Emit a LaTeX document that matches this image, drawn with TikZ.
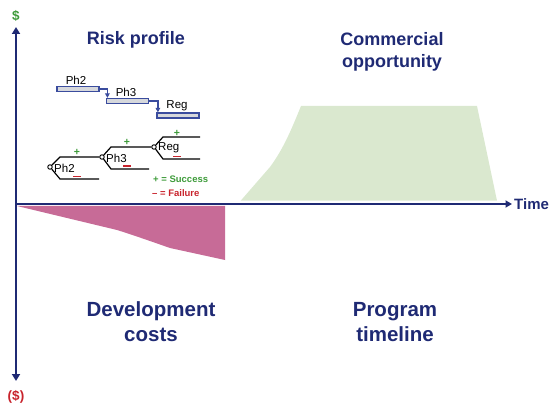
\documentclass[tikz,border=0pt]{standalone}
\usepackage{fontspec}
\setmainfont{Liberation Sans}
\usetikzlibrary{arrows.meta,positioning}
\definecolor{navy}{HTML}{1F2A74}
\definecolor{barblue}{HTML}{3A4C9E}
\definecolor{bargrey}{HTML}{D6D8DC}
\definecolor{plusgreen}{HTML}{3E9B3A}
\definecolor{minusred}{HTML}{C8232C}
\definecolor{oppgreen}{HTML}{DAE8CF}
\definecolor{costpink}{HTML}{C76B97}
\tikzset{
  axis/.style={draw=navy,line width=2.8pt},
  title/.style={font=\fontsize{18}{22}\selectfont\bfseries,text=navy,align=center,inner sep=0pt},
  bigtitle/.style={font=\fontsize{20.5}{25}\selectfont\bfseries,text=navy,align=center,inner sep=0pt},
  ganttbar/.style={draw=barblue,fill=bargrey,line width=1.2pt,minimum width=42pt,
    minimum height=5pt,inner sep=0pt},
  ganttflow/.style={draw=barblue,line width=1.2pt,-{Triangle[length=4.5pt,width=4.5pt]}},
  phase/.style={font=\fontsize{11.5}{13}\selectfont,inner sep=0pt},
  dnode/.style={circle,draw=black,fill=white,line width=0.9pt,minimum size=4.5pt,inner sep=0pt},
  branch/.style={draw=black,line width=1.2pt},
  plus/.style={font=\fontsize{10.5}{10}\selectfont\bfseries,text=plusgreen,inner sep=0pt},
  minus/.style={draw=minusred,line width=1.6pt},
  legend/.style={font=\fontsize{9.5}{11}\selectfont\bfseries,inner sep=0pt},
}
\begin{document}
\begin{tikzpicture}[x=1pt,y=-1pt]
  \useasboundingbox (0,0) rectangle (552,409);
  % areas
  \fill[oppgreen] (240.7,200.7) -- (270,167) .. controls (284,148) and (292,128) .. (301,106)
    -- (477,106) -- (497,200.7) -- cycle;
  \fill[costpink] (17,206) -- (225,206) -- (225,260) -- (170,248)
    .. controls (150,241) and (130,234) .. (117,230) -- cycle;
  % axes
  \coordinate (origin) at (16,204);
  \coordinate (ytop) at (16,27);
  \coordinate (ybot) at (16,381);
  \coordinate (xend) at (512,204);
  \draw[axis,{Triangle[length=7pt,width=8pt]}-{Triangle[length=7pt,width=8pt]}] (ybot) -- (ytop);
  \draw[axis,-{Triangle[length=6.5pt,width=7pt]}] (origin) -- (xend);
  \node[font=\fontsize{13.5}{13}\selectfont\bfseries,text=plusgreen] (dollar) at (16,16) {\$};
  \node[font=\fontsize{13.5}{13}\selectfont\bfseries,text=minusred] (negdollar) at (16,397) {(\$)};
  \node[font=\fontsize{15}{16}\selectfont\bfseries,text=navy,anchor=west,inner sep=0pt] (timelabel) at (514,204.5) {Time};
  % titles
  \node[title] (risk) at (136,40) {Risk profile};
  \node[title] (commercial) at (392,52) {Commercial\\opportunity};
  \node[bigtitle] (devcost) at (151,322) {Development\\costs};
  \node[bigtitle] (timeline) at (395,322) {Program\\timeline};
  % gantt
  \node[ganttbar] (ph2bar) at (78,89) {};
  \node[ganttbar] (ph3bar) at (127.5,101) {};
  \node[ganttbar] (regbar) at (178,115.5) {};
  \node[phase] (ph2lab) at (76,80) {Ph2};
  \node[phase] (ph3lab) at (126,92) {Ph3};
  \node[phase] (reglab) at (177,106) {Reg};
  \draw[ganttflow] (ph2bar.east) -| ([xshift=1.5pt]ph3bar.north west);
  \draw[ganttflow] (ph3bar.east) -| ([xshift=1.5pt]regbar.north west);
  % decision trees
  \node[dnode] (d2) at (50,167) {};
  \node[dnode] (d3) at (102,157) {};
  \node[dnode] (dr) at (154,147) {};
  \coordinate (e2) at (99,179);
  \coordinate (e3) at (149,169);
  \coordinate (er) at (200,159);
  \coordinate (eu) at (200,137);
  \draw[branch] (d2) -- (60,157) -- (d3);
  \draw[branch] (d2) -- (60,179) -- (e2);
  \draw[branch] (d3) -- (111,147) -- (dr);
  \draw[branch] (d3) -- (111,169) -- (e3);
  \draw[branch] (dr) -- (163,137) -- (eu);
  \draw[branch] (dr) -- (163,159) -- (er);
  \node[phase,anchor=west] (ph2tree) at (54,168) {Ph2};
  \node[phase,anchor=west] (ph3tree) at (106,158) {Ph3};
  \node[phase,anchor=west] (regtree) at (158,148) {Reg};
  \node[plus] (p2) at (77,152) {+};
  \node[plus] (p3) at (127,142.5) {+};
  \node[plus] (pr) at (177,133) {+};
  \draw[minus] (73,176.5) -- (81,176.5);
  \draw[minus] (123,166) -- (131,166);
  \draw[minus] (173,156.5) -- (181,156.5);
  % legend
  \node[legend,anchor=west,text=plusgreen] (success) at (153,179) {+ = Success};
  \node[legend,anchor=west,text=minusred] (failure) at (152,193) {\textendash\ = Failure};
\end{tikzpicture}
\end{document}
